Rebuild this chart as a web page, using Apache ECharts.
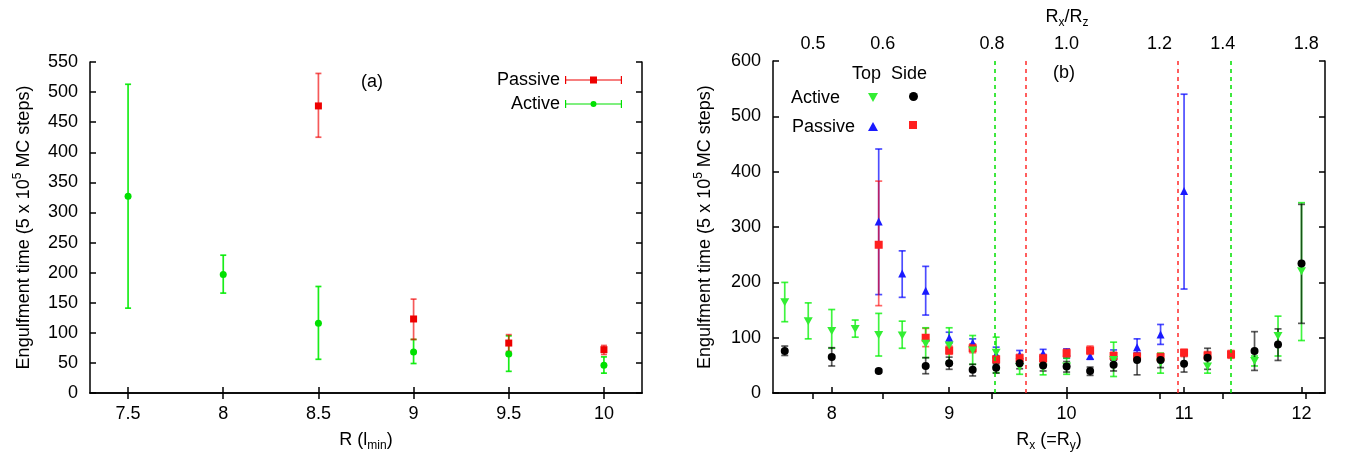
<!DOCTYPE html>
<html>
<head>
<meta charset="utf-8">
<script src="https://cdn.jsdelivr.net/npm/echarts@6/dist/echarts.min.js"></script>
<style>
html, body { margin: 0; padding: 0; background: #fff; }
#chart { width: 1351px; height: 457px; }
</style>
</head>
<body>
<div id="chart"></div>
<script>
// panel (a): engulfment time vs R
var rTicks = [7.5, 8, 8.5, 9, 9.5, 10];
var activeR = [7.5, 8, 8.5, 9, 9.5, 10];
var activeT = [327, 197, 116, 68, 65, 46];
var activeLo = [141, 166, 56, 49, 36, 33];
var activeHi = [513, 229, 177, 89, 95, 60];
var passiveR = [8.5, 9, 9.5, 10];
var passiveT = [477, 123, 83, 72];
var passiveLo = [425, 89, 69, 64];
var passiveHi = [531, 156, 97, 79];

// panel (b): engulfment time vs Rx
var rxTicks = [8, 9, 10, 11, 12];
var ratioTickRx = [7.84, 8.435, 9.364, 10.0, 10.79, 11.33, 12.04];
var ratioLabels = ["0.5", "0.6", "0.8", "1.0", "1.2", "1.4", "1.8"];
var dashRx = [9.395, 9.648, 10.947, 11.401];

var actTopX = [7.6, 7.8, 8.0, 8.2, 8.4, 8.6, 8.8, 9.0, 9.2, 9.4, 9.6, 9.8, 10.0, 10.4, 10.8, 11.2, 11.6, 11.8, 12.0];
var actTopY = [164, 130, 112, 116, 105, 104, 89, 86, 77, 73, 47, 46, 48, 60, 55, 48, 58, 103, 220];
var actTopLo = [129, 98, 81, 101, 67, 81, 64, 56, 52, 37, 34, 33, 34, 30, 36, 36, 49, 67, 95];
var actTopHi = [200, 163, 151, 132, 144, 130, 118, 118, 104, 101, 60, 60, 63, 92, 72, 60, 67, 139, 344];

var actSideX = [7.6, 8.0, 8.4, 8.8, 9.0, 9.2, 9.4, 9.6, 9.8, 10.0, 10.2, 10.4, 10.6, 10.8, 11.0, 11.2, 11.6, 11.8, 12.0];
var actSideY = [76, 65, 40, 49, 54, 42, 46, 54, 50, 48, 40, 51, 60, 60, 53, 64, 76, 88, 234];
var actSideLo = [68, 49, 37, 35, 43, 31, 36, 44, 40, 38, 32, 40, 33, 46, 38, 43, 41, 59, 126];
var actSideHi = [85, 82, 43, 64, 65, 52, 53, 63, 58, 57, 47, 60, 67, 70, 69, 81, 111, 116, 341];

var pasTopX = [8.4, 8.6, 8.8, 9.0, 9.2, 9.4, 9.6, 9.8, 10.0, 10.2, 10.4, 10.6, 10.8, 11.0];
var pasTopY = [310, 216, 185, 100, 91, 70, 69, 72, 74, 67, 69, 83, 106, 365];
var pasTopLo = [178, 173, 141, 90, 84, 57, 60, 62, 63, 61, 60, 73, 88, 188];
var pasTopHi = [441, 257, 229, 110, 98, 83, 77, 79, 80, 74, 78, 98, 124, 540];

var pasSideX = [8.4, 8.8, 9.0, 9.2, 9.4, 9.6, 9.8, 10.0, 10.2, 10.4, 10.6, 10.8, 11.0, 11.2, 11.4];
var pasSideY = [268, 100, 77, 81, 61, 63, 63, 72, 77, 67, 66, 65, 73, 68, 70];
var pasSideLo = [158, 84, 70, 73, 55, 57, 56, 65, 70, 60, 60, 58, 66, 62, 63];
var pasSideHi = [383, 117, 85, 89, 67, 70, 70, 79, 85, 74, 72, 72, 79, 75, 77];

var FONT = "'Liberation Sans', Arial, Helvetica, sans-serif";
var AXLINE = { color: '#000', width: 1.5 };
var DOWN_TRI = 'path://M0,0L10,0L5,9Z';

var chart = echarts.init(document.getElementById('chart'));

var nameStyle = {
	fontSize: 18, fontFamily: FONT, color: '#000',
	rich: {
		t: { fontSize: 18, fontFamily: FONT, color: '#000', lineHeight: 20 },
		sub: { fontSize: 12, fontFamily: FONT, color: '#000', lineHeight: 12, padding: [12, 0, 0, 0] },
		sup: { fontSize: 12, fontFamily: FONT, color: '#000', lineHeight: 12, padding: [0, 0, 12, 0] }
	}
};

function xAxisOf(grid, pos, min, max, ticks, showLabel, extra){
	var ax = {
		gridIndex: grid, type: 'value', position: pos, min: min, max: max,
		axisLine: { lineStyle: AXLINE },
		axisTick: { inside: true, length: 6, lineStyle: AXLINE, customValues: ticks },
		axisLabel: { show: showLabel, customValues: ticks, margin: 12, fontSize: 18, fontFamily: FONT, color: '#000' },
		splitLine: { show: false }
	};
	for (var k in extra) ax[k] = extra[k];
	return ax;
}
function yAxisOf(grid, pos, max, step, showLabel, extra){
	var ax = {
		gridIndex: grid, type: 'value', position: pos, min: 0, max: max, interval: step,
		axisLine: { show: true, lineStyle: AXLINE },
		axisTick: { show: true, inside: true, length: 6, lineStyle: AXLINE },
		axisLabel: { show: showLabel, margin: 12, fontSize: 18, fontFamily: FONT, color: '#000' },
		splitLine: { show: false }
	};
	for (var k in extra) ax[k] = extra[k];
	return ax;
}

//误差棒
function errSeries(name, xs, lo, hi, color, xi, yi, capW){
	return {
		type: 'custom', name: name, xAxisIndex: xi, yAxisIndex: yi, silent: true, z: 2,
		data: xs.map(function(x, i){ return [x, lo[i], hi[i]]; }),
		encode: { x: 0, y: [1, 2] },
		renderItem: function(params, api){
			var top = api.coord([api.value(0), api.value(2)]);
			var bot = api.coord([api.value(0), api.value(1)]);
			var st = { stroke: color, lineWidth: 1.7 };
			return { type: 'group', children: [
				{ type: 'line', shape: { x1: top[0], y1: top[1], x2: bot[0], y2: bot[1] }, style: st },
				{ type: 'line', shape: { x1: top[0] - capW, y1: top[1], x2: top[0] + capW, y2: top[1] }, style: st },
				{ type: 'line', shape: { x1: bot[0] - capW, y1: bot[1], x2: bot[0] + capW, y2: bot[1] }, style: st }
			]};
		}
	};
}
function pointSeries(name, xs, ys, symbol, size, color, xi, yi, z){
	return {
		type: 'scatter', name: name, xAxisIndex: xi, yAxisIndex: yi, z: z || 3,
		symbol: symbol, symbolSize: size,
		itemStyle: { color: color, opacity: 1 },
		data: xs.map(function(x, i){ return [x, ys[i]]; })
	};
}

var dashColors = ['#00e000', '#ff2a2a', '#ff2a2a', '#00e000'];
var sideMarks = pointSeries('Active Side', actSideX, actSideY, 'circle', 8, '#000', 2, 2, 6);
sideMarks.markLine = {
	silent: true, symbol: ['none', 'none'], label: { show: false },
	data: dashRx.map(function(v, i){
		return { xAxis: v, lineStyle: { color: dashColors[i], type: [4, 4], width: 1.5, opacity: 1 } };
	})
};

var option = {
	animation: false,
	backgroundColor: '#fff',
	grid: [
		{ left: 90, right: 709, top: 62, bottom: 64 },
		{ left: 773, right: 26, top: 59, bottom: 62 }
	],
	xAxis: [
		xAxisOf(0, 'bottom', 7.3, 10.2, rTicks, true, {
			name: '{t|R (l}{sub|min}{t|)}', nameLocation: 'middle', nameGap: 34, nameTextStyle: nameStyle
		}),
		xAxisOf(0, 'top', 7.3, 10.2, rTicks, false, {}),
		xAxisOf(1, 'bottom', 7.5, 12.2, rxTicks, true, {
			name: '{t|R}{sub|x}{t| (=R}{sub|y}{t|)}', nameLocation: 'middle', nameGap: 34, nameTextStyle: nameStyle
		}),
		xAxisOf(1, 'top', 7.5, 12.2, ratioTickRx, true, {
			name: '{t|R}{sub|x}{t|/R}{sub|z}', nameLocation: 'middle', nameGap: 34,
			nameTextStyle: Object.assign({}, nameStyle, { padding: [0, 0, 0, 36] })
		})
	],
	yAxis: [
		yAxisOf(0, 'left', 550, 50, true, {
			name: '{t|Engulfment time (5 x 10}{sup|5}{t| MC steps)}', nameLocation: 'middle', nameGap: 56, nameTextStyle: nameStyle
		}),
		yAxisOf(0, 'right', 550, 50, false, {}),
		yAxisOf(1, 'left', 600, 100, true, {
			name: '{t|Engulfment time (5 x 10}{sup|5}{t| MC steps)}', nameLocation: 'middle', nameGap: 58, nameTextStyle: nameStyle
		}),
		yAxisOf(1, 'right', 600, 100, false, {})
	],
	legend: [
		{
			data: [
				{ name: 'Passive', icon: 'path://M0,0h1.2v8H0z M55.8,0H57v8h-1.2z M0,3.4h57v1.2H0z M25,0.5h7v7h-7z' },
				{ name: 'Active', icon: 'path://M0,0h1.2v8H0z M55.8,0H57v8h-1.2z M0,3.4h57v1.2H0z M31.5,4a3,3 0 1,1 -6,0a3,3 0 1,1 6,0z' }
			],
			orient: 'vertical', right: 729, top: 71, align: 'right', padding: 0,
			itemWidth: 57, itemHeight: 8, itemGap: 6,
			textStyle: { fontSize: 18, fontFamily: FONT, color: '#000' },
			selectedMode: false
		},
		{ data: ['Active Top'], left: 868, top: 93, padding: 0, itemWidth: 10, itemHeight: 9, formatter: function(){ return ''; }, selectedMode: false },
		{ data: ['Active Side'], left: 909, top: 92, padding: 0, itemWidth: 9, itemHeight: 9, formatter: function(){ return ''; }, selectedMode: false },
		{ data: ['Passive Top'], left: 868, top: 122, padding: 0, itemWidth: 10, itemHeight: 9, formatter: function(){ return ''; }, selectedMode: false },
		{ data: ['Passive Side'], left: 909, top: 121, padding: 0, itemWidth: 8, itemHeight: 8, formatter: function(){ return ''; }, selectedMode: false }
	],
	graphic: [
		{ type: 'text', x: 361, y: 82, style: { text: '(a)', fontSize: 18, fontFamily: FONT, fill: '#000', verticalAlign: 'middle' } },
		{ type: 'text', x: 1053, y: 73, style: { text: '(b)', fontSize: 18, fontFamily: FONT, fill: '#000', verticalAlign: 'middle' } },
		{ type: 'text', x: 852, y: 74, style: { text: 'Top', fontSize: 18, fontFamily: FONT, fill: '#000', verticalAlign: 'middle' } },
		{ type: 'text', x: 891, y: 74, style: { text: 'Side', fontSize: 18, fontFamily: FONT, fill: '#000', verticalAlign: 'middle' } },
		{ type: 'text', x: 791, y: 98, style: { text: 'Active', fontSize: 18, fontFamily: FONT, fill: '#000', verticalAlign: 'middle' } },
		{ type: 'text', x: 792, y: 127, style: { text: 'Passive', fontSize: 18, fontFamily: FONT, fill: '#000', verticalAlign: 'middle' } }
	],
	series: [
		// (a)
		errSeries('Active err', activeR, activeLo, activeHi, 'rgba(0,235,0,0.9)', 0, 0, 3),
		errSeries('Passive err', passiveR, passiveLo, passiveHi, 'rgba(240,0,0,0.65)', 0, 0, 3),
		pointSeries('Active', activeR, activeT, 'circle', 7, '#00e000', 0, 0),
		pointSeries('Passive', passiveR, passiveT, 'rect', 7, '#ee0000', 0, 0, 4),
		// (b)
		errSeries('Passive Top err', pasTopX, pasTopLo, pasTopHi, 'rgba(0,0,255,0.7)', 2, 2, 3.5),
		errSeries('Passive Side err', pasSideX, pasSideLo, pasSideHi, 'rgba(255,0,0,0.6)', 2, 2, 3.5),
		errSeries('Active Top err', actTopX, actTopLo, actTopHi, 'rgba(0,240,0,0.75)', 2, 2, 3.5),
		errSeries('Active Side err', actSideX, actSideLo, actSideHi, 'rgba(0,0,0,0.65)', 2, 2, 3.5),
		pointSeries('Passive Top', pasTopX, pasTopY, 'triangle', 8, '#1a1aff', 2, 2, 3),
		pointSeries('Passive Side', pasSideX, pasSideY, 'rect', 8, '#ff2020', 2, 2, 4),
		pointSeries('Active Top', actTopX, actTopY, DOWN_TRI, [9, 8], '#33ee33', 2, 2, 5),
		sideMarks
	]
};

// top axis labels: Rx/Rz
option.xAxis[3].axisLabel.formatter = function(v){
	var best = 0;
	for (var i = 1; i < ratioTickRx.length; i++) {
		if (Math.abs(ratioTickRx[i] - v) < Math.abs(ratioTickRx[best] - v)) best = i;
	}
	return ratioLabels[best];
};
option.xAxis[3].axisLabel.margin = 8;

chart.setOption(option, true);
</script>
</body>
</html>
